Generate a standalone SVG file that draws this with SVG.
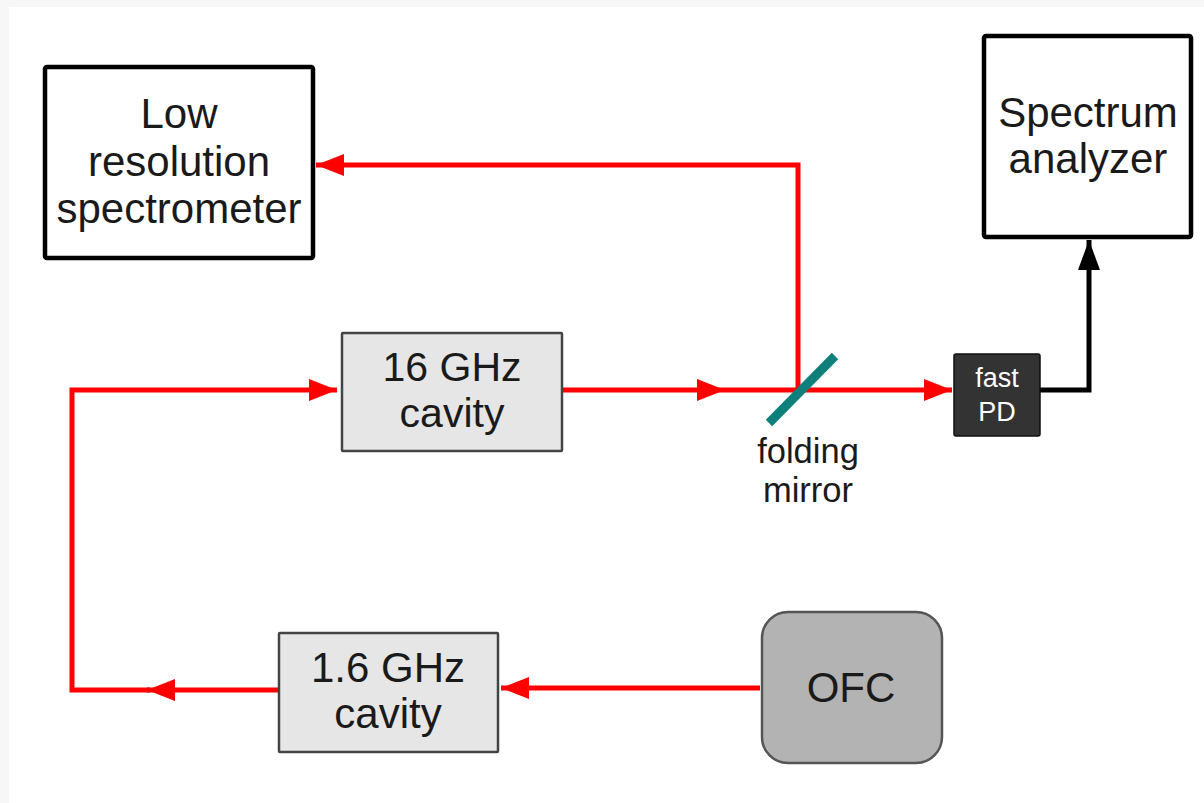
<svg xmlns="http://www.w3.org/2000/svg" width="1204" height="803" viewBox="0 0 1204 803">
<style>
.t{font-family:"Liberation Sans",Arial,sans-serif;fill:#1a1a1a;text-anchor:middle}
.big{font-size:42px}
.cav{fill:#e6e6e6;stroke:#444;stroke-width:2.5}
.blk{fill:#fff;stroke:#000;stroke-width:4.5}
.red{fill:none;stroke:#ff0000;stroke-width:5}
.bl{fill:none;stroke:#000;stroke-width:5}
</style>
<defs>
<marker id="ar" markerUnits="userSpaceOnUse" markerWidth="30" markerHeight="22" refX="28" refY="11" orient="auto"><path d="M0,0 L28,11 L0,22 z" fill="#ff0000"/></marker>
<marker id="ab" markerUnits="userSpaceOnUse" markerWidth="30" markerHeight="22" refX="30" refY="11" orient="auto"><path d="M0,0 L30,11 L0,22 z" fill="#000"/></marker>
</defs>
<rect x="0" y="0" width="1204" height="803" fill="#f7f7f7"/>
<rect x="9" y="7" width="1195" height="796" fill="#fff"/>
<g id="connectors">
<path class="red" d="M798,390 L798,165 L316,165" marker-end="url(#ar)"/>
<path class="red" d="M562,390 L725,390" marker-end="url(#ar)"/>
<path class="red" d="M725,390 L952,390" marker-end="url(#ar)"/>
<path class="red" d="M760,688 L501,688" marker-end="url(#ar)"/>
<path class="red" d="M279,690 L147,690" marker-end="url(#ar)"/>
<path class="red" d="M150,690 L72,690 L72,390 L337,390" marker-end="url(#ar)"/>
<path class="bl" d="M1040,390 L1089,390 L1089,240" marker-end="url(#ab)"/>
</g>
<g id="low-res">
<rect class="blk" x="45" y="67" width="268" height="191" rx="2"/>
<text class="t big" x="179" y="128">Low</text>
<text class="t big" x="179" y="176">resolution</text>
<text class="t big" x="179" y="223">spectrometer</text>
</g>
<g id="spectrum-analyzer">
<rect class="blk" x="984" y="36" width="207" height="201" rx="2"/>
<text class="t big" x="1088" y="127">Spectrum</text>
<text class="t big" x="1088" y="173">analyzer</text>
</g>
<g id="cavity16">
<rect class="cav" x="342" y="333" width="220" height="118" rx="1"/>
<text class="t" style="font-size:41px" x="452" y="381">16 GHz</text>
<text class="t" style="font-size:41px" x="452" y="427">cavity</text>
</g>
<g id="mirror">
<line x1="769" y1="423" x2="835" y2="356" stroke="#0f7f7c" stroke-width="9"/>
<text class="t" style="font-size:34.5px" x="808" y="463">folding</text>
<text class="t" style="font-size:34.5px" x="808" y="502">mirror</text>
</g>
<g id="fast-pd">
<rect x="954" y="354" width="86" height="82" rx="2" fill="#333" stroke="#111" stroke-width="1.5"/>
<text class="t" style="font-size:27px;fill:#fff" x="997" y="387">fast</text>
<text class="t" style="font-size:27px;fill:#fff" x="997" y="421">PD</text>
</g>
<g id="cavity1-6">
<rect class="cav" x="279" y="633" width="219" height="119" rx="1"/>
<text class="t big" x="388" y="682">1.6 GHz</text>
<text class="t big" x="388" y="728">cavity</text>
</g>
<g id="ofc">
<rect x="762" y="612" width="180" height="151" rx="26" fill="#b3b3b3" stroke="#555" stroke-width="2.5"/>
<text class="t big" x="851" y="702">OFC</text>
</g>
</svg>
